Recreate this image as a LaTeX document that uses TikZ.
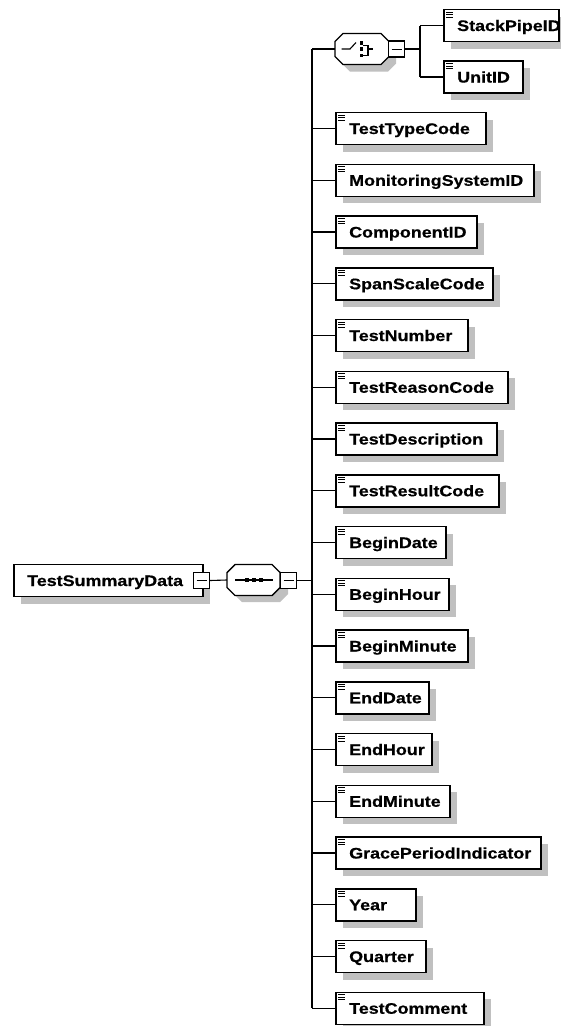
\documentclass[tikz,border=0pt]{standalone}
\usepackage{fontspec}
\newfontfamily\xsd[FakeStretch=1.17,FakeBold=0.6]{Liberation Sans}
\usetikzlibrary{shadows,calc}
\definecolor{shadowgray}{RGB}{192,192,192}
\tikzset{
  boxline/.style={line width=1.5pt},
  conn/.style={line width=1.1pt},
  shad/.style={drop shadow={shadow xshift=7pt,shadow yshift=-7pt,fill=shadowgray,opacity=1}},
  plainbox/.style={draw,boxline,fill=white,shad,minimum height=32pt,inner sep=0pt,anchor=west},
  elem/.style={plainbox,
    path picture={
      \draw[line width=.8pt] ([xshift=2.5pt,yshift=-2.6pt]path picture bounding box.north west) -- ++(6.5pt,0pt);
      \draw[line width=.8pt] ([xshift=2.5pt,yshift=-5pt]path picture bounding box.north west) -- ++(6.5pt,0pt);
      \draw[line width=.8pt] ([xshift=2.5pt,yshift=-7.4pt]path picture bounding box.north west) -- ++(6.5pt,0pt);
    }},
  lbl/.style={anchor=base west,inner sep=0pt,font={\xsd\bfseries\fontsize{15.3}{18}\selectfont}},
  minusbox/.style={draw,line width=1.1pt,fill=white,minimum width=16pt,minimum height=16pt,inner sep=0pt,
    path picture={\draw[line width=1pt] ([xshift=3pt]path picture bounding box.west) -- ([xshift=-3pt]path picture bounding box.east);}},
  anchorbox/.style={minimum width=53pt,minimum height=31pt,inner sep=0pt},
  octline/.style={line width=1.4pt,fill=white},
  octshadow/.style={fill=shadowgray},
  dot/.style={fill=black}
}
\begin{document}
\begin{tikzpicture}[x=1pt,y=-1pt]
\useasboundingbox[fill=white] (0,0) rectangle (561,1026);

% root element
\node[plainbox,minimum width=189pt] (root) at (13,580.5) {};
\node[lbl] (rootlbl) at ([xshift=14pt,yshift=-5.5pt]root.west) {TestSummaryData};
\node[minusbox] (m1) at (201.5,580.5) {};

% sequence compositor
\node[anchorbox] (seq) at (253.5,580) {};
\path[octshadow] (242,571) -- (280,571) -- (288,579) -- (288,594) -- (280,602) -- (242,602) -- (234,594) -- (234,579) -- cycle;
\draw[octline] (235,564.5) -- (272,564.5) -- (280,572.5) -- (280,587.5) -- (272,595.5) -- (235,595.5) -- (227,587.5) -- (227,572.5) -- cycle;
\draw[conn] (235,580) -- (272.5,580);
\fill[dot] (244.5,578) rectangle (248.5,582);
\fill[dot] (251.5,578) rectangle (255.5,582);
\fill[dot] (258.5,578) rectangle (262.5,582);
\node[minusbox] (m2) at (288.5,580.5) {};
\draw[conn] (m1.east) -- (seq.west);
\coordinate (bar) at (312,580.5);
\draw[conn] (m2.east) -- (bar);

% choice compositor
\node[anchorbox] (cho) at (361.5,49) {};
\path[octshadow] (350,40.5) -- (388,40.5) -- (396,48.5) -- (396,63.5) -- (388,71.5) -- (350,71.5) -- (342,63.5) -- (342,48.5) -- cycle;
\draw[octline] (343,33.5) -- (381,33.5) -- (389,41.5) -- (389,56.5) -- (381,64.5) -- (343,64.5) -- (335,56.5) -- (335,41.5) -- cycle;
\draw[conn] (341.5,49) -- (350,49) -- (356,42.5);
\fill[dot] (359.5,41) rectangle (363,44.5);
\fill[dot] (359.5,47.2) rectangle (363,50.8);
\fill[dot] (359.5,53.5) rectangle (363,57);
\draw[conn] (363,45.5) -- (368,45.5) -- (368,55.5) -- (363,55.5);
\draw[conn] (368,49) -- (373,49);
\node[minusbox] (m3) at (396.5,49) {};
\draw[conn] (cho.west -| bar) -- (cho.west);
\coordinate (cbar) at (420,49);
\draw[conn] (m3.east) -- (cbar);

\node[elem,minimum width=115pt] (sp) at (443,25.5) {};
\node[lbl] (splbl) at ([xshift=14pt,yshift=-5.5pt]sp.west) {StackPipeID};
\node[elem,minimum width=79pt] (un) at (443,77) {};
\node[lbl] (unlbl) at ([xshift=14pt,yshift=-5.5pt]un.west) {UnitID};
\draw[conn] (sp.west -| cbar) -- (un.west -| cbar);
\draw[conn] (sp.west -| cbar) -- (sp.west);
\draw[conn] (un.west -| cbar) -- (un.west);

% sequence children
\foreach \lab/\w [count=\k from 0] in {TestTypeCode/150,MonitoringSystemID/198,ComponentID/141,SpanScaleCode/157,TestNumber/132,TestReasonCode/172,TestDescription/161,TestResultCode/163,BeginDate/110,BeginHour/113,BeginMinute/132,EndDate/93,EndHour/96,EndMinute/114,GracePeriodIndicator/205,Year/80,Quarter/90,TestComment/148}{
  \node[elem,minimum width=\w pt] (e\k) at (335,{128.5+51.75*\k}) {};
  \node[lbl] (t\k) at ([xshift=14pt,yshift=-5.5pt]e\k.west) {\lab};
  \draw[conn] (e\k.west -| bar) -- (e\k.west);
}
\draw[conn] (cho.west -| bar) -- (e17.west -| bar);
\end{tikzpicture}
\end{document}
